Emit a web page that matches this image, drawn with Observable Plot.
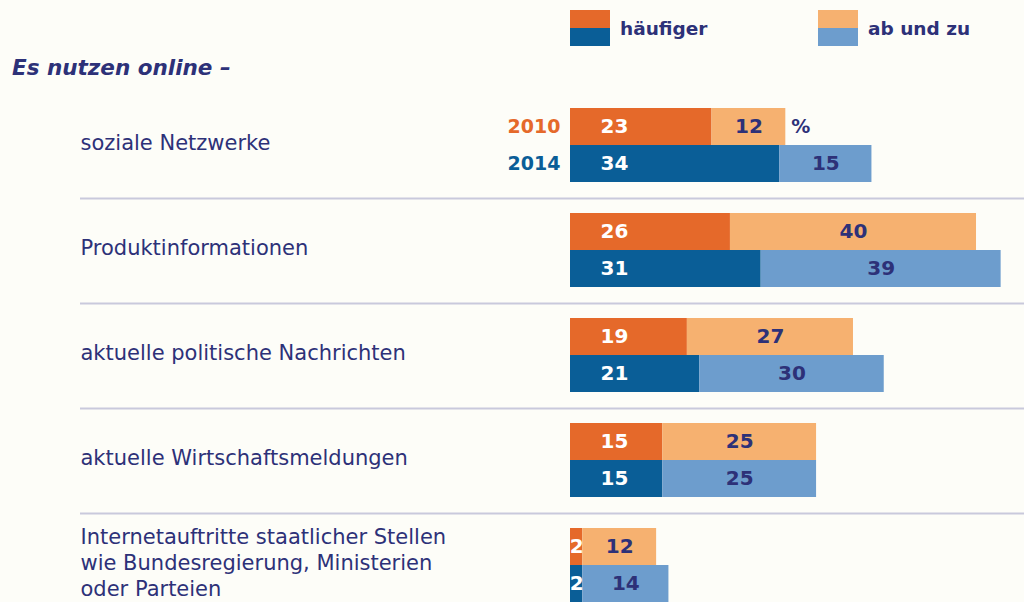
<!DOCTYPE html>
<html>
<head>
<meta charset="utf-8">
<script src="https://cdn.jsdelivr.net/npm/d3@7"></script>
<script src="https://cdn.jsdelivr.net/npm/@observablehq/plot@0.6"></script>
<style>
  html, body { margin: 0; padding: 0; background: #fdfdf8; }
  #wrap { position: relative; width: 1024px; height: 602px; overflow: hidden; font-family: "DejaVu Sans", sans-serif; color: #2d3178; }
  #title { position: absolute; left: 12px; top: 55px; font-size: 21.5px; font-weight: bold; font-style: italic; white-space: nowrap; }
  .leg { position: absolute; top: 10px; display: flex; align-items: center; font-weight: bold; font-size: 18.5px; white-space: nowrap; }
  .sw { width: 40px; height: 36px; margin-right: 10px; display: flex; flex-direction: column; }
  .sw div { flex: 1; }
  #chart { position: absolute; left: 0; top: 95px; }
</style>
</head>
<body>
<div id="wrap">
  <div id="title"></div>
  <div id="chart"></div>
</div>
<script>
// ---- data ----
const titleText = "Es nutzen online –";
const categories = [
  "soziale Netzwerke",
  "Produktinformationen",
  "aktuelle politische Nachrichten",
  "aktuelle Wirtschaftsmeldungen",
  "Internetauftritte staatlicher Stellen\nwie Bundesregierung, Ministerien\noder Parteien"
];
const years = ["2010", "2014"];
const types = ["häufiger", "ab und zu"];
const often2010 = [23, 26, 19, 15, 2];
const some2010  = [12, 40, 27, 25, 12];
const often2014 = [34, 31, 21, 15, 2];
const some2014  = [15, 39, 30, 25, 14];
const unitLabel = "%";

// ---- styles ----
const navy = "#2d3178";
const colorOf = {
  "2010|häufiger": "#e5692a",
  "2010|ab und zu": "#f6b170",
  "2014|häufiger": "#0a5e97",
  "2014|ab und zu": "#6d9dcd"
};
const yearColor = {"2010": "#e5692a", "2014": "#0a5e97"};

// ---- table ----
const rows = [];
categories.forEach((cat, i) => {
  years.forEach((year, j) => {
    const h = (j === 0 ? often2010 : often2014)[i];
    const a = (j === 0 ? some2010 : some2014)[i];
    rows.push({cat, ci: i, year, type: types[0], value: h, start: 0, end: h});
    rows.push({cat, ci: i, year, type: types[1], value: a, start: h, end: h + a});
  });
});

// ---- header (title + legend) ----
document.getElementById("title").textContent = titleText;
const wrap = document.getElementById("wrap");
const legendX = [570, 818];
types.forEach((t, k) => {
  const el = document.createElement("div");
  el.className = "leg";
  el.style.left = legendX[k] + "px";
  const sw = document.createElement("div");
  sw.className = "sw";
  years.forEach(y => {
    const d = document.createElement("div");
    d.style.background = colorOf[y + "|" + t];
    sw.appendChild(d);
  });
  el.appendChild(sw);
  const lab = document.createElement("span");
  lab.textContent = t;
  el.appendChild(lab);
  wrap.appendChild(el);
});

const first = d => d.year === years[0] && d.type === types[0];

const chart = Plot.plot({
  width: 1024,
  height: 507,
  marginLeft: 570,
  marginRight: 0,
  marginTop: 12,
  marginBottom: 0,
  style: {background: "transparent", overflow: "visible"},
  x: {domain: [0, 73.8], axis: null},
  y: {domain: years, axis: null, padding: 0},
  fy: {domain: categories, axis: null, paddingInner: 0.287, paddingOuter: 0},
  color: {domain: Object.keys(colorOf), range: Object.values(colorOf)},
  facet: {data: rows, y: "cat", marginTop: 12, marginBottom: 0, marginLeft: 570, marginRight: 0},
  marks: [
    Plot.ruleY(rows, {
      filter: d => first(d) && d.ci > 0,
      y: "year", insetLeft: -490, dy: -33.5,
      stroke: "#c9c9dc", strokeWidth: 2
    }),
    Plot.barX(rows, {
      x1: "start", x2: "end", y: "year",
      fill: d => d.year + "|" + d.type
    }),
    Plot.text(rows, {
      x: d => d.type === types[0] ? Math.min(d.value / 2, 7.15) : d.start + d.value / 2,
      y: "year",
      text: d => String(d.value),
      fill: d => d.type === types[0] ? "white" : navy,
      fontSize: 20, fontWeight: "bold", fontFamily: "DejaVu Sans"
    }),
    Plot.text(rows, {
      filter: first,
      text: "cat",
      frameAnchor: "left", dx: -490, dy: -3, textAnchor: "start",
      lineHeight: 1.24,
      fill: navy, fontSize: 21, fontFamily: "DejaVu Sans"
    }),
    Plot.text(rows, {
      filter: d => d.ci === 0 && d.type === types[0],
      y: "year", text: "year",
      frameAnchor: "left", dx: -10, textAnchor: "end",
      fill: d => yearColor[d.year],
      fontSize: 19, fontWeight: "bold", fontFamily: "DejaVu Sans"
    }),
    Plot.text(rows, {
      filter: d => d.ci === 0 && d.year === years[0] && d.type === types[1],
      x: "end", y: "year", text: () => unitLabel,
      dx: 15, fill: navy, fontSize: 19, fontWeight: "bold", fontFamily: "DejaVu Sans"
    })
  ]
});
document.getElementById("chart").appendChild(chart);
</script>
</body>
</html>
